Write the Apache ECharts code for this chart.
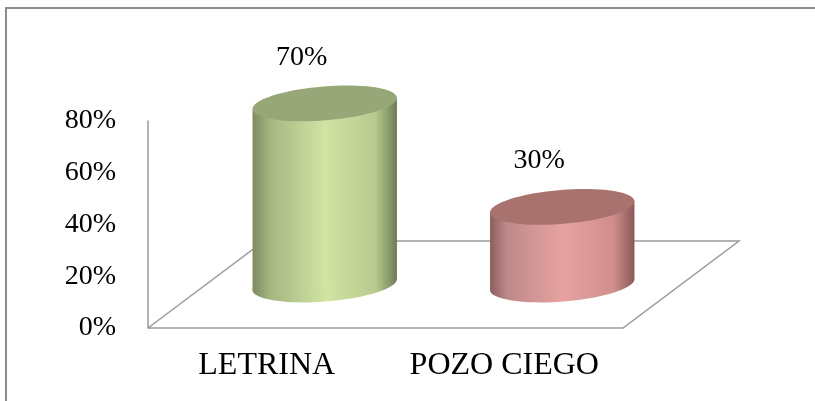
<!DOCTYPE html>
<html>
<head>
<meta charset="utf-8">
<script src="https://cdn.jsdelivr.net/npm/echarts@6/dist/echarts.min.js"></script>
<style>
  html, body { margin: 0; padding: 0; background: #fff; }
  #chart-container { width: 815px; height: 401px; }
</style>
</head>
<body>
<div id="chart-container"></div>
<script>
const categories = ['LETRINA', 'POZO CIEGO'];
const values = [70, 30];
const yTicks = [0, 20, 40, 60, 80];

// colours per cylinder: [edge dark, mid, light centre, right mid, right edge, top]
const palettes = [
    ['#7d8b60', '#a6b681', '#d1e4a3', '#b8ca8e', '#6e7c54', '#97a778'],
    ['#8c5e5e', '#c08a8a', '#e6a2a0', '#cf8f8d', '#8a5858', '#a8736e']
];

const FONT = "'Liberation Serif', 'Times New Roman', serif";
const GRID = { left: 148, right: 192, top: 121, bottom: 73 };
const DEPTH = { dx: 116, dy: -87 };   // floor depth in pixels

const myChart = echarts.init(document.getElementById('chart-container'));

function renderCylinder(params, api) {
    const i = params.dataIndex;
    const val = api.value(1);
    const base = api.coord([api.value(0), 0]);
    const top = api.coord([api.value(0), val]);
    const band = api.size([1, 0])[0];
    const rx = band * 0.305;
    const ry = 17;
    const rot = 0.08;
    const cx = base[0] + DEPTH.dx / 2;
    const cyB = base[1] + DEPTH.dy / 2;
    const cyT = top[1] + DEPTH.dy / 2;
    const ex = rx * Math.cos(rot), ey = rx * Math.sin(rot);
    const p = palettes[i];
    const grad = new echarts.graphic.LinearGradient(0, 0, 1, 0, [
        { offset: 0, color: p[0] },
        { offset: 0.12, color: p[1] },
        { offset: 0.5, color: p[2] },
        { offset: 0.85, color: p[3] },
        { offset: 1, color: p[4] }
    ]);
    return {
        type: 'group',
        children: [
            {
                type: 'ellipse',
                shape: { cx: cx, cy: cyB, rx: rx, ry: ry },
                rotation: rot, originX: cx, originY: cyB,
                style: { fill: grad }
            },
            {
                type: 'polygon',
                shape: { points: [
                    [cx - ex, cyT + ey], [cx + ex, cyT - ey],
                    [cx + ex, cyB - ey], [cx - ex, cyB + ey]
                ] },
                style: { fill: grad }
            },
            {
                type: 'ellipse',
                shape: { cx: cx, cy: cyT, rx: rx, ry: ry },
                rotation: rot, originX: cx, originY: cyT,
                style: { fill: p[5] }
            },
            {
                type: 'text',
                x: cx - 23, y: cyT - 46,
                style: {
                    text: val + '%', fill: '#000', font: '28px ' + FONT,
                    align: 'center', verticalAlign: 'middle'
                }
            }
        ]
    };
}

const W = 815, H = 401;
const x0 = GRID.left, x1 = W - GRID.right, yb = H - GRID.bottom;

const option = {
    animation: false,
    backgroundColor: '#fff',
    grid: { left: GRID.left, right: GRID.right, top: GRID.top, bottom: GRID.bottom },
    xAxis: {
        type: 'category',
        data: categories,
        axisLine: { show: false },
        axisTick: { show: false },
        axisLabel: {
            color: '#000', fontFamily: FONT, fontSize: 32, margin: 22,
            interval: 0, hideOverlap: false
        }
    },
    yAxis: {
        type: 'value',
        min: 0, max: yTicks[yTicks.length - 1], interval: 20,
        splitLine: { show: false },
        axisTick: { show: false },
        axisLine: { show: true, lineStyle: { color: '#9a9a9a', width: 1.5 } },
        axisLabel: { color: '#000', fontFamily: FONT, fontSize: 28, margin: 32, formatter: '{value}%' }
    },
    graphic: [
        {
            type: 'rect', z: 0, silent: true,
            shape: { x: 6, y: 8, width: 840, height: 420 },
            style: { fill: 'none', stroke: '#8c8c8c', lineWidth: 2 }
        },
        {
            type: 'polyline', z: 0, silent: true,
            shape: { points: [
                [x0, yb], [x1, yb], [x1 + DEPTH.dx, yb + DEPTH.dy],
                [x0 + DEPTH.dx, yb + DEPTH.dy], [x0, yb]
            ] },
            style: { fill: 'none', stroke: '#9a9a9a', lineWidth: 1.5 }
        }
    ],
    series: [{
        type: 'custom',
        z: 5,
        renderItem: renderCylinder,
        data: categories.map((c, i) => [i, values[i]])
    }]
};

myChart.setOption(option);
</script>
</body>
</html>
